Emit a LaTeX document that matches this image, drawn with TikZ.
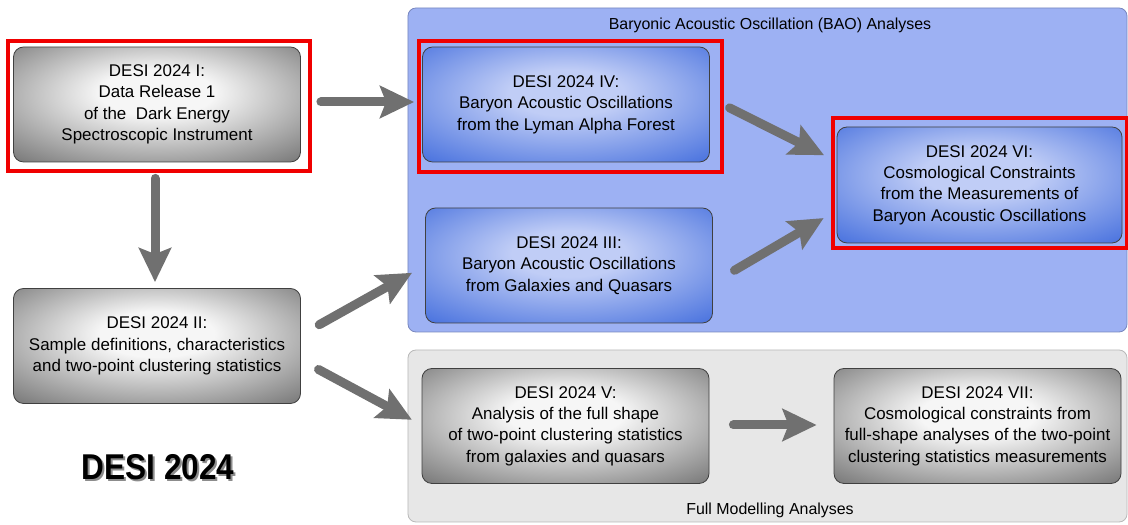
\documentclass[tikz,border=0pt]{standalone}
\usepackage{fontspec}
\setmainfont{Liberation Sans}
\newfontfamily\bannerfont[FakeStretch=0.88]{Liberation Sans}
\usetikzlibrary{arrows.meta}
\definecolor{baofill}{RGB}{157,177,243}
\definecolor{baoline}{RGB}{120,135,190}
\definecolor{fmfill}{RGB}{231,231,231}
\definecolor{fmline}{RGB}{185,185,185}
\definecolor{bluelite}{RGB}{192,205,246}
\definecolor{bluedeep}{RGB}{52,98,218}
\definecolor{greylite}{RGB}{246,246,246}
\definecolor{greydeep}{RGB}{98,98,98}
\definecolor{flowgrey}{RGB}{112,112,112}
\definecolor{framered}{RGB}{240,0,0}
\pgfdeclareradialshading{greyglow}{\pgfpoint{0bp}{6bp}}{color(0bp)=(greylite); color(10bp)=(greylite); color(42bp)=(greydeep); color(70bp)=(greydeep)}
\pgfdeclareradialshading{blueglow}{\pgfpoint{0bp}{6bp}}{color(0bp)=(bluelite); color(10bp)=(bluelite); color(42bp)=(bluedeep); color(70bp)=(bluedeep)}
\tikzset{
  paper/.style={rounded corners=10bp, draw=black!75, line width=0.8bp, inner sep=0pt,
    minimum width=287bp, minimum height=115bp, align=center,
    font=\fontsize{17}{21.5}\selectfont},
  greybox/.style={paper, shading=greyglow},
  bluebox/.style={paper, shading=blueglow},
  panel/.style={rounded corners=8bp, line width=0.8bp, inner sep=0pt},
  paneltitle/.style={font=\fontsize{16}{16}\selectfont, inner sep=0pt},
  flow/.style={draw=flowgrey, line width=9bp, line cap=round,
    -{Stealth[width=32bp,length=34bp,inset=6bp]}},
  highlight/.style={draw=framered, line width=4bp},
}
\begin{document}
\begin{tikzpicture}[x=1bp,y=1bp]
  \useasboundingbox (0,0) rectangle (1128,525);
%%
  % Panel: BAO analyses
  \node[panel, draw=baoline, fill=baofill, minimum width=719bp, minimum height=324bp] (baopanel) at (767.5,355) {};
  \node[paneltitle] (baotitle) at (770,500) {Baryonic Acoustic Oscillation (BAO) Analyses};
  % Panel: full modelling analyses
  \node[panel, draw=fmline, fill=fmfill, minimum width=719bp, minimum height=172bp] (fmpanel) at (767.5,89) {};
  \node[paneltitle] (fmtitle) at (770,15) {Full Modelling Analyses};
  % Node: dr1
  \node[greybox] (dr1) at (157,420.5) {DESI 2024 I:\\Data Release 1\\of the\ \ Dark Energy\\Spectroscopic Instrument};
  % Node: sample
  \node[greybox] (sample) at (157,179) {DESI 2024 II:\\Sample definitions, characteristics\\and two-point clustering statistics};
  % Node: lya
  \node[bluebox] (lya) at (566,420.5) {DESI 2024 IV:\\Baryon Acoustic Oscillations\\from the Lyman Alpha Forest};
  % Node: galqso
  \node[bluebox] (galqso) at (569,259.5) {DESI 2024 III:\\Baryon Acoustic Oscillations\\from Galaxies and Quasars};
  % Node: baocosmo
  \node[bluebox, minimum width=285bp, minimum height=116bp] (baocosmo) at (979.5,340) {DESI 2024 VI:\\Cosmological Constraints\\from the Measurements of\\Baryon Acoustic Oscillations};
  % Node: fullshape
  \node[greybox] (fullshape) at (565.5,99) {DESI 2024 V:\\Analysis of the full shape\\of two-point clustering statistics\\from galaxies and quasars};
  % Node: fscosmo
  \node[greybox] (fscosmo) at (977.5,99) {DESI 2024 VII:\\Cosmological constraints from\\full-shape analyses of the two-point\\clustering statistics measurements};
  % Node: banner
  \node[font=\bannerfont\bfseries\fontsize{36}{36}\selectfont, text=black!45] (bannershadow) at (160,56) {DESI 2024};
  \node[font=\bannerfont\bfseries\fontsize{36}{36}\selectfont] (banner) at (158,58) {DESI 2024};
%%
  % Edge: dr1 -> lya
  \draw[flow, shorten <=20bp, shorten >=8bp] ([yshift=2.5bp]dr1.east) -- ([yshift=2.5bp]lya.west);
  % Edge: dr1 -> sample
  \draw[flow, shorten <=16bp, shorten >=6bp] ([xshift=-2bp]dr1.south) -- ([xshift=-2bp]sample.north);
  % Edge: sample -> galqso
  \draw[flow, shorten <=21bp, shorten >=15bp] ([yshift=11bp]sample.east) -- (galqso.west);
  % Edge: sample -> fullshape
  \draw[flow, shorten <=20bp, shorten >=11bp] ([yshift=-14bp]sample.east) -- ([yshift=1bp]fullshape.west);
  % Edge: lya -> baocosmo
  \draw[flow, shorten <=22bp, shorten >=14bp] ([yshift=6.5bp]lya.east) -- ([yshift=23.5bp]baocosmo.west);
  % Edge: galqso -> baocosmo
  \draw[flow, shorten <=25bp, shorten >=15bp] ([yshift=-17.5bp]galqso.east) -- ([yshift=-25.5bp]baocosmo.west);
  % Edge: fullshape -> fscosmo
  \draw[flow, shorten <=24bp, shorten >=17bp] ([yshift=1bp]fullshape.east) -- ([yshift=1bp]fscosmo.west);
%%
  % Highlight frames
  \draw[highlight] ([shift={(-5bp,6bp)}]dr1.north west) rectangle ([shift={(9bp,-9bp)}]dr1.south east);
  \draw[highlight] ([shift={(-3bp,6bp)}]lya.north west) rectangle ([shift={(12bp,-10bp)}]lya.south east);
  \draw[highlight] ([shift={(-4bp,9bp)}]baocosmo.north west) rectangle ([shift={(5bp,-5bp)}]baocosmo.south east);
%
\end{tikzpicture}
\end{document}
